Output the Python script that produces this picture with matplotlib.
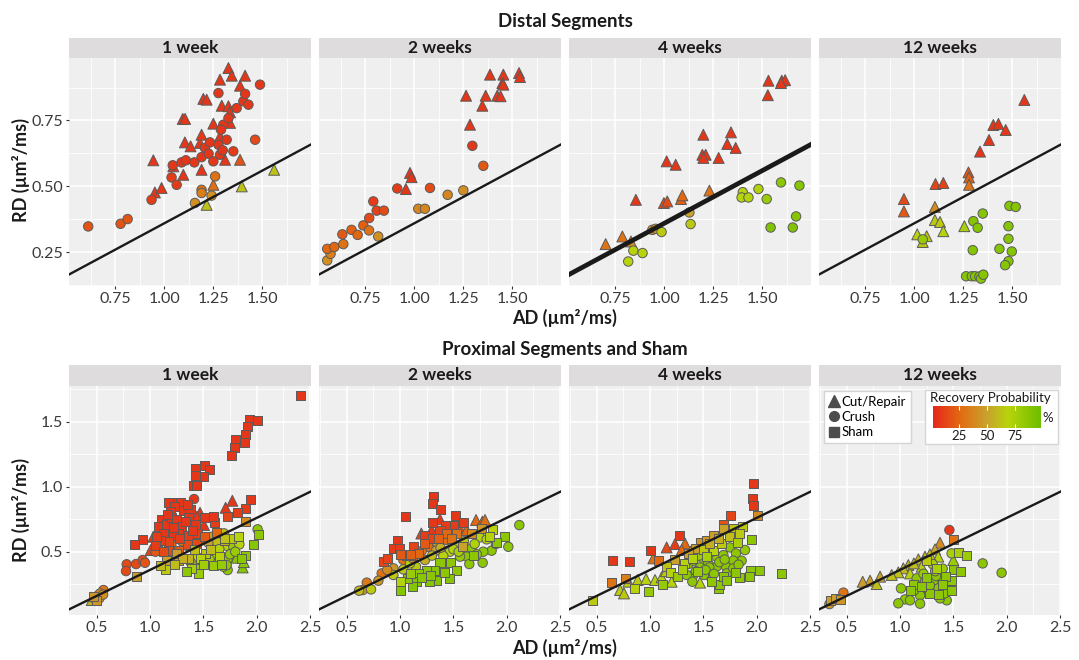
import numpy as np
import matplotlib
matplotlib.use("Agg")
import matplotlib.pyplot as plt
from matplotlib.colors import LinearSegmentedColormap, Normalize
from matplotlib.cm import ScalarMappable
from matplotlib.lines import Line2D
from matplotlib.patches import Rectangle

plt.rcParams['font.family'] = ['Lato', 'DejaVu Sans']

# ---- data: (AD, RD, recovery probability %) ----
# distal segments
dist_1wk_tri = [(0.944,0.599,8),(0.952,0.477,8),(0.986,0.494,8),(1.046,0.576,8),(1.094,0.756,8),(1.106,0.756,8),
                (1.097,0.544,8),(1.105,0.667,8),(1.134,0.652,8),(1.182,0.665,8),(1.190,0.696,8),(1.190,0.563,8),
                (1.199,0.832,8),(1.216,0.829,8),(1.250,0.738,8),(1.284,0.905,8),(1.327,0.949,8),(1.344,0.920,8),
                (1.412,0.920,8),(1.386,0.882,8),(1.293,0.806,8),(1.327,0.804,8),(1.335,0.781,8),(1.284,0.690,8),
                (1.310,0.601,8),(1.335,0.741,8),(1.386,0.601,18),(1.250,0.506,28),(1.216,0.430,62),(1.395,0.500,62),
                (1.560,0.563,62)]
dist_1wk_cir = [(0.612,0.348,18),(0.777,0.358,18),(0.813,0.376,18),(0.935,0.449,10),(1.037,0.534,10),(1.063,0.506,10),
                (1.043,0.580,8),(1.088,0.591,8),(1.110,0.599,8),(1.153,0.591,8),(1.190,0.611,8),(1.207,0.646,8),
                (1.233,0.667,8),(1.226,0.624,8),(1.250,0.595,8),(1.284,0.620,8),(1.276,0.658,8),(1.298,0.637,8),
                (1.318,0.677,8),(1.301,0.734,8),(1.327,0.759,8),(1.276,0.854,8),(1.289,0.715,8),(1.369,0.797,8),
                (1.403,0.823,8),(1.412,0.851,8),(1.429,0.810,8),(1.488,0.886,8),(1.463,0.677,15),(1.352,0.633,10),
                (1.259,0.538,30),(1.190,0.487,30),(1.190,0.475,35),(1.156,0.437,42),(1.241,0.465,42)]

dist_2wk_tri = [(0.957,0.490,8),(0.978,0.551,8),(0.986,0.535,8),(1.264,0.844,8),(1.284,0.734,8),(1.347,0.806,8),
                (1.364,0.844,8),(1.386,0.924,8),(1.423,0.844,8),(1.440,0.842,8),(1.454,0.924,8),(1.449,0.892,8),
                (1.454,0.886,8),(1.534,0.930,8),(1.539,0.915,8)]
dist_2wk_cir = [(0.556,0.219,42),(0.573,0.244,35),(0.556,0.263,25),(0.592,0.270,25),(0.638,0.281,30),(0.633,0.318,20),
                (0.680,0.335,22),(0.711,0.316,25),(0.740,0.352,22),(0.769,0.333,30),(0.770,0.380,15),(0.816,0.310,42),
                (0.791,0.443,10),(0.808,0.408,12),(0.845,0.408,15),(0.913,0.492,10),(1.080,0.494,15),(1.020,0.415,38),
                (1.054,0.415,38),(1.170,0.468,38),(1.250,0.485,42),(1.296,0.654,8),(1.352,0.578,20)]

dist_4wk_tri = [(0.701,0.281,30),(0.786,0.310,30),(0.830,0.291,40),(0.855,0.449,8),(0.998,0.437,15),(1.015,0.443,15),
                (1.085,0.452,22),(1.092,0.466,25),(1.230,0.484,30),(1.012,0.595,8),(1.058,0.582,8),(1.199,0.696,8),
                (1.194,0.620,8),(1.211,0.620,8),(1.199,0.608,8),(1.277,0.608,8),(1.321,0.661,8),(1.340,0.705,8),
                (1.364,0.646,8),(1.531,0.901,8),(1.528,0.846,8),(1.599,0.901,8),(1.616,0.903,8),(1.595,0.892,8)]
dist_4wk_cir = [(0.816,0.215,68),(0.842,0.256,68),(0.889,0.247,68),(0.939,0.335,45),(0.956,0.339,45),(0.986,0.327,65),
                (1.128,0.401,50),(1.134,0.357,65),(1.400,0.478,68),(1.394,0.458,68),(1.429,0.458,70),(1.480,0.490,72),
                (1.522,0.452,80),(1.595,0.515,85),(1.689,0.503,88),(1.672,0.386,88),(1.542,0.344,90),(1.655,0.344,90)]

dist_12wk_tri = [(0.947,0.452,15),(0.947,0.405,20),(1.105,0.422,40),(1.108,0.509,12),(1.148,0.513,12),(1.276,0.553,18),
                 (1.279,0.534,22),(1.279,0.506,30),(1.335,0.632,8),(1.381,0.676,8),(1.403,0.733,8),(1.429,0.737,8),
                 (1.466,0.714,8),(1.561,0.828,8),(1.105,0.372,65),(1.131,0.365,65),(1.148,0.330,70),(1.015,0.318,68),
                 (1.063,0.311,65),(1.043,0.289,65),(1.255,0.349,75)]
dist_12wk_cir = [(1.043,0.299,80),(1.298,0.258,88),(1.301,0.368,88),(1.323,0.343,88),(1.349,0.397,88),(1.485,0.426,88),
                 (1.517,0.422,88),(1.480,0.349,88),(1.480,0.301,88),(1.434,0.263,88),(1.497,0.253,88),(1.480,0.216,88),
                 (1.463,0.201,88),(1.264,0.159,88),(1.293,0.159,88),(1.310,0.159,88),(1.332,0.158,88),(1.340,0.150,88),
                 (1.352,0.165,88)]

# proximal segments and sham
prox_1wk_tri = [(1.772,0.892,8),(1.709,0.838,8),(1.469,0.800,8),(1.506,0.705,8),(1.031,0.615,8),(1.006,0.513,12),
                (1.813,0.454,85),(1.869,0.379,88),(0.453,0.128,55),(1.200,0.700,8),(1.440,0.770,8),(1.880,0.420,86)]
prox_1wk_cir = [(0.781,0.403,15),(0.775,0.351,15),(0.869,0.405,15),(0.931,0.436,15),(0.953,0.415,18),(1.094,0.508,15),
                (1.413,0.905,8),(1.391,0.572,25),(1.344,0.546,30),(1.500,0.595,35),(1.578,0.615,45),(1.694,0.641,60),
                (1.625,0.577,60),(1.547,0.569,50),(1.719,0.546,68),(1.781,0.538,80),(1.838,0.556,68),(2.009,0.672,85),
                (1.728,0.441,85),(1.728,0.359,85),(1.688,0.385,85),(1.719,0.397,85),(1.594,0.474,75),(1.531,0.436,68),
                (1.438,0.462,68),(1.469,0.385,70),(0.506,0.159,45),(0.563,0.205,30),(0.531,0.179,40),(0.525,0.141,48),
                (1.200,0.550,25),(1.050,0.500,20),(1.300,0.580,28),(1.450,0.590,40),(1.650,0.520,70),(1.750,0.480,82),
                (1.560,0.440,78),(1.640,0.420,85),(1.800,0.500,80),(1.380,0.420,72),(0.480,0.140,50),(0.560,0.170,42)]
prox_1wk_sq = [(2.416,1.705,8),(1.937,1.518,8),(2.006,1.508,8),(1.916,1.467,8),(1.897,1.405,8),(1.884,1.338,8),
               (1.806,1.364,8),(1.791,1.300,8),(1.766,1.238,8),(1.431,1.141,8),(1.509,1.167,8),(1.556,1.133,8),
               (1.506,1.077,8),(1.422,1.085,8),(1.406,1.013,8),(1.438,1.013,8),(1.944,0.903,8),(1.897,0.833,10),
               (1.819,0.803,10),(1.728,0.774,12),(1.609,0.726,10),(1.594,0.774,8),(1.509,0.764,8),(1.234,0.877,8),
               (1.288,0.877,8),(1.172,0.877,8),(1.234,0.846,8),(1.188,0.813,8),(1.109,0.744,8),(1.078,0.692,8),
               (1.150,0.710,8),(1.125,0.641,8),(1.203,0.762,8),(1.250,0.751,8),(1.313,0.815,8),(1.375,0.821,8),
               (1.359,0.762,8),(1.297,0.692,8),(1.422,0.713,8),(1.447,0.641,10),(1.359,0.628,10),(1.266,0.641,8),
               (1.219,0.628,8),(1.172,0.582,12),(1.094,0.585,10),(0.931,0.595,8),(0.859,0.556,8),(1.047,0.544,10),
               (1.178,0.513,15),(1.266,0.513,20),(1.125,0.500,15),(1.353,0.556,15),(1.438,0.564,15),(1.891,0.736,40),
               (1.766,0.603,65),(1.828,0.615,68),(2.022,0.636,85),(1.969,0.556,88),(1.891,0.467,85),(1.650,0.462,68),
               (1.522,0.487,65),(1.594,0.397,80),(1.422,0.372,80),(1.453,0.333,80),(1.391,0.372,75),(1.338,0.351,85),
               (1.359,0.449,55),(1.266,0.436,50),(1.250,0.487,48),(1.156,0.436,50),(1.141,0.364,65),(1.094,0.392,60),
               (0.869,0.308,48),(0.494,0.123,45),(0.469,0.154,45),(1.300,0.450,55),(1.470,0.450,70),(1.670,0.400,82),
               (1.160,0.790,8),(1.330,0.730,8),(1.280,0.600,10),(1.400,0.660,8),(1.220,0.690,8),(1.350,0.860,8),
               (1.060,0.620,10),(1.510,0.620,20),(1.620,0.650,25),(1.700,0.590,55),(1.570,0.520,60),(1.500,0.400,78),
               (1.700,0.600,62),(1.230,0.400,60),(1.860,0.450,86),(1.420,0.520,60)]

prox_2wk_tri = [(1.375,0.749,8),(1.297,0.667,8),(1.713,0.744,25),(1.772,0.731,25),(1.797,0.744,28),(1.556,0.692,18),
                (1.625,0.667,25),(1.200,0.640,12),(1.450,0.660,20)]
prox_2wk_cir = [(1.438,0.590,28),(1.344,0.569,40),(1.266,0.538,28),(1.203,0.505,30),(1.031,0.436,28),(0.938,0.372,45),
                (0.828,0.333,30),(0.797,0.277,45),(0.688,0.262,32),(0.650,0.205,45),(0.728,0.210,65),(0.616,0.200,60),
                (1.150,0.385,65),(1.234,0.436,55),(1.338,0.508,50),(1.750,0.610,68),(1.813,0.595,70),(2.119,0.705,85),
                (2.016,0.538,85),(1.859,0.508,85),(1.781,0.500,85),(1.672,0.526,85),(1.625,0.462,85),(1.650,0.405,85),
                (1.775,0.415,85),(1.563,0.462,82),(1.541,0.551,68),(1.469,0.500,68),(1.406,0.467,68),(0.938,0.321,65),
                (1.031,0.364,65),(1.094,0.410,68),(1.600,0.580,65),(1.700,0.560,72),(1.500,0.520,70),(1.300,0.470,62),
                (1.380,0.530,55),(1.550,0.500,75),(1.720,0.480,85),(1.900,0.560,82),(1.120,0.450,40),(0.880,0.360,40)]
prox_2wk_sq = [(1.313,0.923,8),(1.306,0.872,8),(1.381,0.826,8),(1.047,0.769,8),(1.522,0.777,8),(1.594,0.723,10),
               (1.506,0.705,10),(1.422,0.700,10),(1.375,0.662,12),(1.306,0.723,8),(1.231,0.621,10),(1.306,0.603,12),
               (0.975,0.585,8),(0.938,0.526,10),(0.994,0.526,10),(0.844,0.423,12),(0.881,0.449,12),(1.125,0.538,12),
               (1.116,0.469,22),(1.063,0.474,18),(1.172,0.487,25),(1.438,0.641,25),(1.531,0.641,30),(1.672,0.641,40),
               (1.094,0.482,22),(1.588,0.538,50),(1.869,0.672,68),(1.984,0.615,85),(1.906,0.572,85),(1.688,0.474,85),
               (1.469,0.415,85),(1.531,0.354,85),(1.463,0.295,88),(1.375,0.418,85),(1.328,0.359,88),(1.338,0.282,88),
               (1.272,0.269,88),(1.250,0.359,85),(1.172,0.333,85),(1.156,0.274,88),(1.119,0.236,88),(1.069,0.295,85),
               (1.000,0.269,70),(1.006,0.205,88),(1.200,0.300,86),(1.420,0.340,85),(1.290,0.320,86),(1.480,0.600,30),
               (1.360,0.600,22),(1.230,0.560,20),(1.000,0.480,20),(1.760,0.680,45),(1.840,0.620,70),(1.100,0.330,80)]

prox_4wk_tri = [(1.156,0.533,15),(1.234,0.559,10),(1.328,0.564,25),(1.297,0.513,25),(1.031,0.449,28),(0.719,0.205,65),
                (0.756,0.179,65),(0.884,0.282,65),(0.963,0.290,68),(1.047,0.282,68),(1.109,0.303,68),(1.203,0.269,68),
                (1.469,0.262,70),(0.797,0.269,65),(1.380,0.500,50),(1.150,0.350,65)]
prox_4wk_cir = [(1.359,0.405,82),(1.406,0.431,82),(1.506,0.441,85),(1.547,0.410,85),(1.625,0.462,82),(1.688,0.474,85),
                (1.750,0.533,85),(1.806,0.487,85),(1.859,0.431,85),(1.781,0.431,85),(1.713,0.385,85),(1.625,0.385,85),
                (1.556,0.379,85),(1.469,0.379,85),(1.406,0.321,85),(1.344,0.321,85),(1.397,0.269,85),(1.578,0.290,85),
                (1.506,0.321,85),(1.719,0.333,85),(1.781,0.372,85),(1.891,0.513,82),(1.580,0.500,82),(1.650,0.420,85),
                (1.460,0.470,80),(1.520,0.360,85),(1.700,0.440,85),(1.430,0.350,85),(1.600,0.330,85),(1.830,0.400,85)]
prox_4wk_sq = [(1.975,1.026,8),(1.963,0.910,8),(1.975,0.859,8),(1.759,0.777,12),(1.688,0.713,18),(2.006,0.782,40),
               (1.272,0.621,8),(1.009,0.513,8),(0.650,0.431,8),(0.803,0.428,8),(1.084,0.436,25),(0.634,0.262,30),
               (0.766,0.295,35),(0.463,0.128,65),(1.469,0.569,45),(1.531,0.590,45),(1.594,0.628,48),(1.688,0.679,50),
               (1.781,0.679,62),(1.869,0.692,65),(1.422,0.526,48),(1.359,0.487,50),(1.234,0.441,50),(1.156,0.385,62),
               (1.188,0.338,68),(1.119,0.244,82),(0.984,0.197,82),(0.859,0.218,68),(1.953,0.597,85),(2.031,0.359,85),
               (1.938,0.359,85),(1.931,0.308,85),(1.844,0.300,85),(1.641,0.218,85),(1.656,0.244,85),(1.688,0.313,85),
               (2.234,0.333,85),(1.256,0.308,80),(1.594,0.513,68),(1.672,0.564,65),(1.500,0.518,65),(1.328,0.410,68),
               (1.840,0.640,65),(1.450,0.350,80),(1.560,0.560,55),(1.640,0.600,55),(1.750,0.620,60),(1.820,0.570,75),
               (1.530,0.460,75),(1.400,0.450,70),(1.300,0.360,75),(1.800,0.340,85),(1.580,0.270,85),(1.720,0.280,85)]

prox_12wk_tri = [(1.375,0.569,40),(1.328,0.518,50),(1.234,0.462,55),(1.172,0.441,55),(1.078,0.397,55),(1.031,0.372,58),
                 (0.984,0.341,62),(0.922,0.321,62),(0.813,0.308,50),(0.719,0.277,48),(0.650,0.269,48),(0.781,0.251,62),
                 (1.094,0.333,68),(1.203,0.385,68),(1.359,0.462,68),(1.500,0.436,80),(1.280,0.480,60),(1.130,0.410,60)]
prox_12wk_cir = [(1.463,0.667,8),(0.469,0.185,30),(0.338,0.097,45),(1.775,0.410,85),(1.953,0.338,85),(1.484,0.487,75),
                 (1.306,0.405,75),(1.156,0.295,85),(1.234,0.269,85),(1.313,0.262,85),(1.400,0.282,85),(1.338,0.313,85),
                 (1.009,0.218,85),(1.047,0.133,85),(0.984,0.103,85),(1.094,0.126,85),(1.188,0.164,85),(1.188,0.100,85),
                 (1.266,0.205,85),(1.438,0.126,85),(1.375,0.141,85),(1.359,0.218,85),(1.453,0.223,85),(1.220,0.330,82),
                 (1.400,0.370,80),(1.280,0.240,85),(1.420,0.180,85),(1.130,0.200,85),(1.330,0.350,82)]
prox_12wk_sq = [(1.500,0.597,30),(0.350,0.128,48),(0.391,0.141,48),(0.438,0.133,45),(1.250,0.436,65),(1.344,0.372,75),
                (1.125,0.244,85),(1.094,0.200,85),(1.281,0.179,85),(1.359,0.167,85),(1.484,0.205,85),(1.484,0.282,85),
                (1.500,0.364,85),(1.563,0.346,85),(1.547,0.492,75),(1.619,0.474,80),(1.430,0.310,85),(1.250,0.300,85),
                (1.400,0.250,85),(1.200,0.230,85)]

weeks = ['1 week', '2 weeks', '4 weeks', '12 weeks']
line_slope = 0.40
line_intercept = -0.04
prob_ticks = [25, 50, 75]

# ---- style ----
W, H = 1079, 660
PANEL_BG = '#EFEFEF'
STRIP_BG = '#DEDCDD'
EDGE = '#5A5A5A'
TXT = '#1A1A1A'
TICK_TXT = '#3A3A3A'
cmap = LinearSegmentedColormap.from_list('rec', [(0.0, '#E5261C'), (0.25, '#E26A10'), (0.5, '#C9A22C'),
                                                 (0.7, '#B7D40A'), (1.0, '#6CBD00')])
norm = Normalize(vmin=2, vmax=98)

fig = plt.figure(figsize=(W / 100, H / 100), dpi=100)


def draw_panel(ax, groups, title, xlim, ylim, xmaj, xmin, xlab, ymaj, ymin, ylab, first, lw, strip_px):
    ax.set_facecolor(PANEL_BG)
    for marker, size, pts in groups:
        a = np.array(pts)
        ax.scatter(a[:, 0], a[:, 1], c=a[:, 2], cmap=cmap, norm=norm, marker=marker, s=size,
                   edgecolors=EDGE, linewidths=0.7, zorder=3)
    ax.axline((0, line_intercept), slope=line_slope, color=TXT, lw=lw, zorder=4)
    ax.set_xlim(xlim)
    ax.set_ylim(ylim)
    ax.set_xticks(xmaj)
    ax.set_xticklabels(xlab)
    ax.set_xticks(xmin, minor=True)
    ax.set_yticks(ymaj)
    ax.set_yticks(ymin, minor=True)
    if first:
        ax.set_yticklabels(ylab)
    else:
        ax.tick_params(axis='y', which='major', labelleft=False)
    ax.grid(which='major', color='white', lw=1.1)
    ax.grid(which='minor', color='white', lw=0.55)
    ax.set_axisbelow(True)
    for s in ax.spines.values():
        s.set_visible(False)
    ax.tick_params(which='major', length=2.5, color='#333333', labelsize=11.5, labelcolor=TICK_TXT, pad=2)
    ax.tick_params(which='minor', length=0)
    if not first:
        ax.tick_params(axis='y', which='major', length=0)
    h = strip_px / (ax.get_position().height * H)
    ax.add_patch(Rectangle((0, 1), 1, h, transform=ax.transAxes, clip_on=False, fc=STRIP_BG, ec='none'))
    ax.text(0.5, 1 + h / 2, title, transform=ax.transAxes, ha='center', va='center',
            fontsize=12.5, fontweight='bold', color=TXT)


lefts = [69, 319, 569, 819]
distal = [(dist_1wk_tri, dist_1wk_cir), (dist_2wk_tri, dist_2wk_cir),
          (dist_4wk_tri, dist_4wk_cir), (dist_12wk_tri, dist_12wk_cir)]
proximal = [(prox_1wk_tri, prox_1wk_cir, prox_1wk_sq), (prox_2wk_tri, prox_2wk_cir, prox_2wk_sq),
            (prox_4wk_tri, prox_4wk_cir, prox_4wk_sq), (prox_12wk_tri, prox_12wk_cir, prox_12wk_sq)]

for i, (tri, cir) in enumerate(distal):
    ax = fig.add_axes([lefts[i] / W, 1 - 286 / H, 242 / W, (286 - 58.3) / H])
    draw_panel(ax, [('^', 62, tri), ('o', 46, cir)], weeks[i],
               (0.514, 1.748), (0.122, 0.986),
               [0.75, 1.0, 1.25, 1.5], [0.625, 0.875, 1.125, 1.375, 1.625], ['0.75', '1.00', '1.25', '1.50'],
               [0.25, 0.5, 0.75], [0.125, 0.375, 0.625, 0.875], ['0.25', '0.50', '0.75'],
               i == 0, 3.4 if i == 2 else 1.7, 20)

bottom_axes = []
for i, (tri, cir, sq) in enumerate(proximal):
    ax = fig.add_axes([lefts[i] / W, 1 - 615 / H, 242 / W, (615 - 386) / H])
    draw_panel(ax, [('^', 62, tri), ('o', 46, cir), ('s', 42, sq)], weeks[i],
               (0.24, 2.51), (0.013, 1.775),
               [0.5, 1.0, 1.5, 2.0, 2.5], [0.25, 0.75, 1.25, 1.75, 2.25], ['0.5', '1.0', '1.5', '2.0', '2.5'],
               [0.5, 1.0, 1.5], [0.25, 0.75, 1.25, 1.75], ['0.5', '1.0', '1.5'],
               i == 0, 1.7, 21)
    bottom_axes.append(ax)

# shape legend
ax = bottom_axes[3]
handles = [Line2D([], [], marker=m, ls='none', color='#4D4D4D', markersize=ms)
           for m, ms in [('^', 8), ('o', 7), ('s', 7)]]
leg = ax.legend(handles, ['Cut/Repair', 'Crush', 'Sham'], loc='upper left',
                bbox_to_anchor=((824 - 819) / 242, 1 - (391 - 386) / 229), borderaxespad=0,
                fontsize=9.5, handlelength=0.8, handletextpad=0.2, labelspacing=0.25, borderpad=0.35,
                frameon=True, fancybox=False, framealpha=1, edgecolor='#D5D5D5', facecolor='white')
leg.set_zorder(6)

# colour legend
fig.patches.append(Rectangle((925 / W, 1 - 444 / H), 133 / W, 54 / H, transform=fig.transFigure,
                             fc='white', ec='#D5D5D5', lw=1, zorder=5))
cax = fig.add_axes([933 / W, 1 - 428 / H, 108 / W, 22 / H])
cax.set_zorder(7)
cb = fig.colorbar(ScalarMappable(norm=norm, cmap=cmap), cax=cax, orientation='horizontal')
cb.outline.set_visible(False)
cb.set_ticks(prob_ticks)
cax.tick_params(length=3, color='white', direction='in', top=True, bottom=True,
                labelsize=9.5, labelcolor=TXT, pad=1.5, width=0.8)
fig.text(990 / W, 1 - 398 / H, 'Recovery Probability', ha='center', va='center', fontsize=9.5,
         color=TXT, zorder=8)
fig.text(1042 / W, 1 - 418 / H, '%', ha='left', va='center', fontsize=9.5, color=TXT, zorder=8)

# titles and axis labels
fig.text(565 / W, 1 - 22 / H, 'Distal Segments', ha='center', va='center', fontsize=13.5, fontweight='bold', color=TXT)
fig.text(565 / W, 1 - 318 / H, 'AD (µm²/ms)', ha='center', va='center', fontsize=13, fontweight='bold', color=TXT)
fig.text(565 / W, 1 - 350 / H, 'Proximal Segments and Sham', ha='center', va='center', fontsize=13.5,
         fontweight='bold', color=TXT)
fig.text(565 / W, 1 - 648 / H, 'AD (µm²/ms)', ha='center', va='center', fontsize=13, fontweight='bold', color=TXT)
fig.text(21 / W, 1 - 170 / H, 'RD (µm²/ms)', rotation=90, ha='center', va='center', fontsize=13,
         fontweight='bold', color=TXT)
fig.text(21 / W, 1 - 510 / H, 'RD (µm²/ms)', rotation=90, ha='center', va='center', fontsize=13,
         fontweight='bold', color=TXT)

fig.savefig('out.png', dpi=100)
